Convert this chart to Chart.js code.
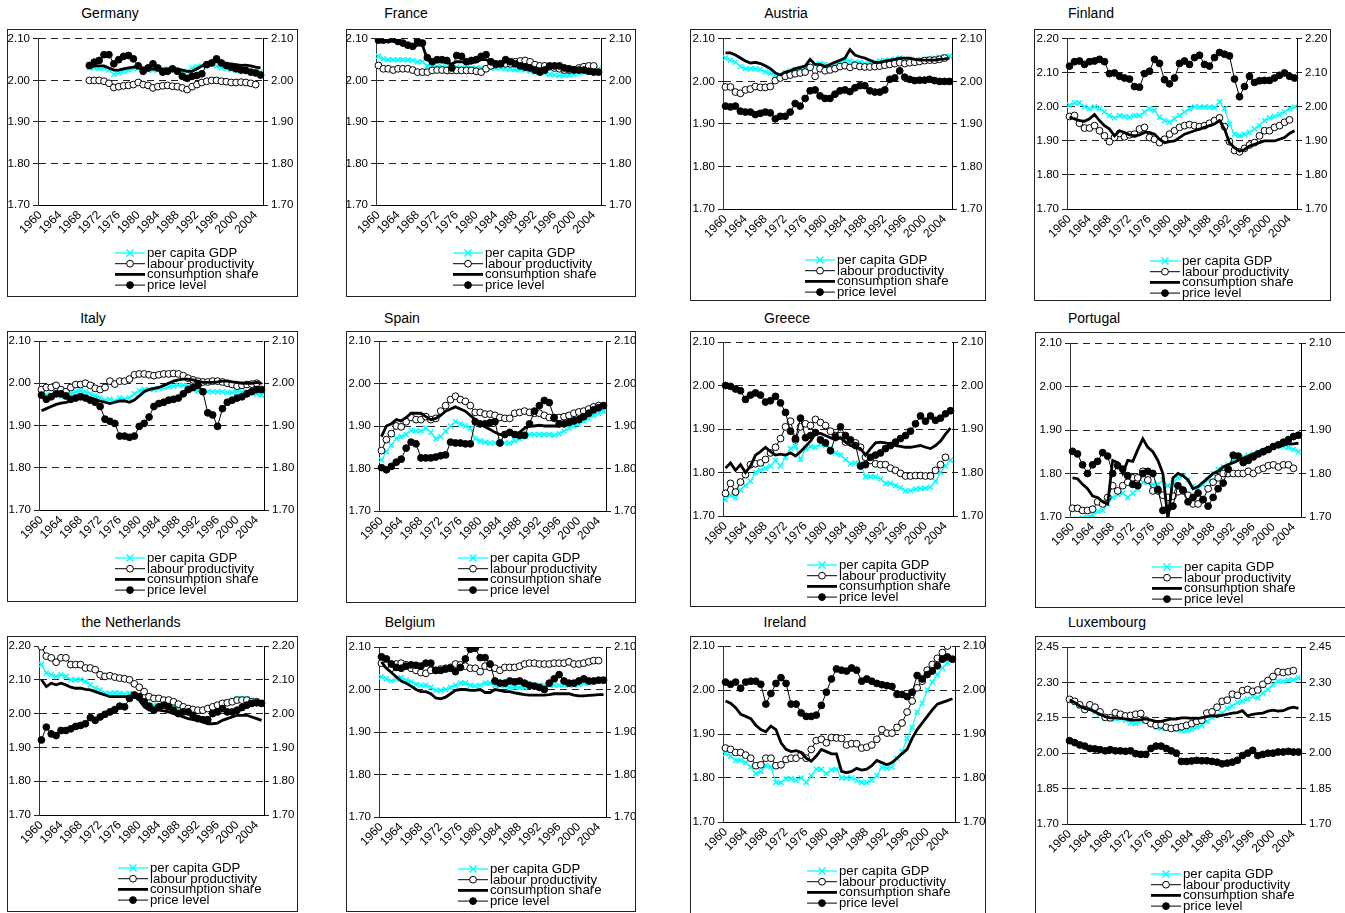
<!DOCTYPE html>
<html>
<head>
<meta charset="utf-8">
<script src="https://cdn.jsdelivr.net/npm/chart.js@4.4.1/dist/chart.umd.min.js"></script>
<style>
  body { margin: 0; background: #fff; width: 1345px; height: 913px; overflow: hidden; position: relative; font-family: "Liberation Sans", Arial, sans-serif; }
  .box { position: absolute; border: 1px solid #222; box-sizing: border-box; }
  .title { position: absolute; font-size: 14px; line-height: 16px; white-space: nowrap; transform: translateX(-50%); color: #000; }
  canvas { position: absolute; }
</style>
</head>
<body>
<script>
const years = ['1960','1961','1962','1963','1964','1965','1966','1967','1968','1969',
  '1970','1971','1972','1973','1974','1975','1976','1977','1978','1979',
  '1980','1981','1982','1983','1984','1985','1986','1987','1988','1989',
  '1990','1991','1992','1993','1994','1995','1996','1997','1998','1999',
  '2000','2001','2002','2003','2004','2005'];

const ticks210 = [1.70, 1.80, 1.90, 2.00, 2.10];
const ticks220 = [1.70, 1.80, 1.90, 2.00, 2.10, 2.20];
const ticks245 = [1.70, 1.85, 2.00, 2.15, 2.30, 2.45];

const seriesNames = ['per capita GDP', 'labour productivity', 'consumption share', 'price level'];

// Germany
const deGdp = [null,null,null,null,null,null,null,null,null,null,
  2.030,2.030,2.028,2.030,2.025,2.015,2.018,2.022,2.025,2.028,
  2.030,2.028,2.025,2.025,2.025,2.027,2.027,2.026,2.025,2.022,
  2.022,2.030,2.033,2.035,2.038,2.040,2.035,2.030,2.028,2.026,
  2.025,2.024,2.023,2.022,2.020,2.020];
const deProd = [null,null,null,null,null,null,null,null,null,null,
  2.000,2.000,2.000,1.998,1.993,1.983,1.985,1.987,1.988,1.990,
  1.995,1.990,1.988,1.982,1.985,1.987,1.988,1.986,1.985,1.982,
  1.978,1.985,1.990,1.995,1.998,2.000,2.000,1.998,1.997,1.995,
  1.995,1.996,1.995,1.993,1.990,null];
const deCons = [null,null,null,null,null,null,null,null,null,null,
  2.030,2.035,2.035,2.035,2.030,2.025,2.025,2.028,2.030,2.032,
  2.035,2.030,2.028,2.027,2.027,2.027,2.028,2.028,2.027,2.025,
  2.022,2.022,2.028,2.035,2.040,2.045,2.045,2.043,2.040,2.040,
  2.038,2.036,2.037,2.035,2.032,2.030];
const dePrice = [null,null,null,null,null,null,null,null,null,null,
  2.036,2.044,2.048,2.062,2.062,2.040,2.050,2.058,2.060,2.052,
  2.035,2.022,2.030,2.040,2.030,2.020,2.022,2.028,2.022,2.010,
  2.005,2.010,2.012,2.016,2.038,2.042,2.052,2.042,2.036,2.032,
  2.028,2.025,2.024,2.020,2.018,2.013];

// France
const frGdp = [2.058,2.052,2.050,2.050,2.050,2.050,2.050,2.048,2.045,2.045,
  2.035,2.033,2.033,2.033,2.032,2.030,2.032,2.030,2.030,2.030,
  2.030,2.030,2.030,2.030,2.030,2.030,2.028,2.027,2.026,2.026,
  2.025,2.022,2.020,2.020,2.018,2.015,2.013,2.012,2.012,2.013,
  2.015,2.018,2.020,2.022,2.025,2.028];
const frProd = [2.036,2.028,2.028,2.025,2.028,2.028,2.028,2.025,2.020,2.020,
  2.020,2.024,2.025,2.025,2.024,2.024,2.024,2.024,2.024,2.024,
  2.022,2.020,2.028,2.035,2.038,2.040,2.040,2.040,2.045,2.047,
  2.048,2.045,2.038,2.035,2.035,2.033,2.030,2.028,2.025,2.025,
  2.025,2.030,2.033,2.035,2.035,null];
const frCons = [2.095,2.095,2.095,2.095,2.090,2.088,2.083,2.080,2.085,2.085,
  2.050,2.045,2.045,2.045,2.042,2.040,2.045,2.045,2.042,2.042,
  2.045,2.050,2.050,2.045,2.042,2.042,2.045,2.043,2.040,2.038,
  2.035,2.032,2.030,2.028,2.030,2.035,2.035,2.033,2.030,2.030,
  2.028,2.026,2.025,2.023,2.022,2.020];
const frPrice = [2.097,2.097,2.098,2.100,2.094,2.090,2.085,2.082,2.095,2.090,
  2.055,2.045,2.050,2.050,2.048,2.030,2.060,2.058,2.045,2.048,
  2.050,2.058,2.062,2.045,2.040,2.040,2.050,2.045,2.040,2.035,
  2.032,2.030,2.025,2.020,2.025,2.035,2.035,2.035,2.030,2.028,
  2.026,2.025,2.025,2.022,2.020,2.020];

// Austria
const atGdp = [2.055,2.050,2.045,2.035,2.030,2.030,2.030,2.028,2.022,2.020,
  2.015,2.010,2.020,2.025,2.028,2.030,2.033,2.035,2.040,2.042,
  2.040,2.035,2.040,2.045,2.050,2.048,2.045,2.045,2.042,2.042,
  2.045,2.048,2.050,2.050,2.052,2.055,2.050,2.052,2.050,2.050,
  2.052,2.053,2.055,2.057,2.058,2.060];
const atProd = [1.987,1.987,1.975,1.972,1.980,1.982,1.988,1.986,1.986,1.988,
  2.002,2.008,2.012,2.015,2.018,2.020,2.022,2.033,2.012,2.030,
  2.025,2.027,2.030,2.035,2.037,2.033,2.038,2.035,2.034,2.034,
  2.035,2.036,2.038,2.040,2.042,2.044,2.042,2.044,2.045,2.047,
  2.049,2.050,2.050,2.052,2.055,null];
const atCons = [2.067,2.067,2.062,2.055,2.048,2.043,2.045,2.042,2.037,2.030,
  2.020,2.015,2.022,2.025,2.030,2.033,2.036,2.052,2.040,2.040,
  2.035,2.040,2.045,2.050,2.055,2.075,2.062,2.058,2.055,2.050,
  2.045,2.045,2.048,2.050,2.052,2.055,2.055,2.055,2.052,2.050,
  2.050,2.050,2.050,2.052,2.053,2.055];
const atPrice = [1.942,1.940,1.942,1.930,1.928,1.928,1.922,1.925,1.928,1.926,
  1.912,1.918,1.918,1.928,1.948,1.942,1.960,1.978,1.980,1.966,
  1.960,1.960,1.970,1.978,1.980,1.976,1.985,1.990,1.990,1.978,
  1.975,1.975,1.980,2.005,2.008,2.025,2.010,2.005,2.002,2.003,
  2.003,2.005,2.002,2.000,2.000,2.000];

// Finland
const fiGdp = [2.005,2.012,2.012,2.000,1.995,2.000,1.995,1.985,1.975,1.968,
  1.975,1.972,1.970,1.975,1.975,1.985,1.995,1.990,1.970,1.960,
  1.955,1.965,1.975,1.985,1.995,2.000,2.000,2.000,2.000,1.998,
  2.015,1.995,1.950,1.920,1.915,1.920,1.925,1.935,1.945,1.960,
  1.968,1.972,1.978,1.985,1.995,2.000];
const fiProd = [1.972,1.975,1.952,1.938,1.938,1.945,1.930,1.915,1.898,1.910,
  1.922,1.912,1.918,1.920,1.935,1.940,1.910,1.905,1.895,1.905,
  1.920,1.930,1.940,1.945,1.948,1.945,1.942,1.945,1.952,1.960,
  1.968,1.942,1.898,1.872,1.868,1.878,1.888,1.895,1.915,1.930,
  1.930,1.940,1.945,1.955,1.962,null];
const fiCons = [1.970,1.965,1.960,1.958,1.965,1.978,1.960,1.945,1.935,1.915,
  1.930,1.925,1.918,1.915,1.918,1.925,1.925,1.920,1.905,1.895,
  1.898,1.900,1.910,1.920,1.925,1.930,1.935,1.940,1.945,1.950,
  1.960,1.935,1.895,1.880,1.870,1.875,1.885,1.890,1.895,1.900,
  1.900,1.900,1.905,1.910,1.922,1.930];
const fiPrice = [2.120,2.133,2.135,2.125,2.133,2.135,2.140,2.133,2.098,2.100,
  2.090,2.085,2.082,2.060,2.058,2.098,2.105,2.140,2.128,2.080,
  2.068,2.085,2.128,2.135,2.125,2.145,2.152,2.125,2.120,2.145,
  2.160,2.155,2.150,2.082,2.030,2.060,2.090,2.072,2.077,2.078,
  2.078,2.085,2.093,2.100,2.090,2.085];

// Italy
const itGdp = [1.975,1.972,1.972,1.975,1.970,1.968,1.975,1.980,1.982,1.980,
  1.975,1.970,1.965,1.960,1.962,1.958,1.965,1.962,1.965,1.975,
  1.982,1.985,1.985,1.985,1.988,1.990,1.992,1.993,1.995,1.995,
  1.993,1.985,1.982,1.980,1.980,1.980,1.980,1.980,1.978,1.978,
  1.980,1.980,1.980,1.978,1.975,1.972];
const itProd = [1.985,1.990,1.990,1.995,1.985,1.980,1.990,1.997,1.997,2.000,
  1.995,1.988,1.985,1.990,2.005,1.998,2.005,2.005,2.010,2.020,
  2.022,2.022,2.020,2.018,2.020,2.022,2.022,2.023,2.022,2.018,
  2.012,2.008,2.005,2.003,2.003,2.005,2.005,2.003,2.000,1.997,
  1.993,1.995,1.997,1.998,2.000,null];
const itCons = [1.935,1.940,1.945,1.950,1.953,1.955,1.958,1.962,1.965,1.965,
  1.965,1.962,1.958,1.955,1.952,1.955,1.958,1.958,1.955,1.960,
  1.970,1.980,1.985,1.988,1.990,1.995,2.000,2.005,2.008,2.010,
  2.010,2.008,2.005,2.002,2.002,2.002,2.003,2.005,2.005,2.003,
  2.002,2.000,2.000,2.000,2.002,2.000];
const itPrice = [1.972,1.962,1.968,1.975,1.975,1.970,1.962,1.965,1.968,1.965,
  1.960,1.955,1.945,1.915,1.910,1.905,1.875,1.875,1.872,1.875,
  1.898,1.905,1.920,1.945,1.952,1.955,1.960,1.962,1.965,1.975,
  1.985,1.990,1.995,1.980,1.930,1.925,1.898,1.940,1.955,1.960,
  1.965,1.968,1.975,1.980,1.985,1.985];

// Spain
const esGdp = [1.820,1.840,1.855,1.870,1.875,1.880,1.890,1.888,1.888,1.895,
  1.885,1.870,1.875,1.888,1.900,1.910,1.905,1.900,1.895,1.870,
  1.865,1.862,1.860,1.860,1.865,1.860,1.860,1.865,1.870,1.875,
  1.880,1.880,1.880,1.880,1.880,1.878,1.882,1.888,1.895,1.900,
  1.905,1.912,1.918,1.925,1.930,1.935];
const esProd = [1.842,1.868,1.882,1.900,1.898,1.910,1.920,1.915,1.915,1.922,
  1.915,1.918,1.935,1.948,1.962,1.970,1.962,1.958,1.948,1.932,
  1.932,1.928,1.928,1.925,1.920,1.918,1.918,1.930,1.932,1.935,
  1.932,1.930,1.930,1.925,1.920,1.918,1.920,1.922,1.925,1.930,
  1.933,1.935,1.940,1.945,1.948,null];
const esCons = [1.875,1.900,1.905,1.915,1.912,1.920,1.930,1.930,1.930,1.922,
  1.915,1.918,1.925,1.935,1.940,1.945,1.940,1.935,1.925,1.915,
  1.905,1.898,1.892,1.885,1.880,1.880,1.880,1.880,1.885,1.895,
  1.900,1.900,1.902,1.900,1.900,1.900,1.900,1.905,1.910,1.915,
  1.920,1.925,1.932,1.938,1.943,1.948];
const esPrice = [1.802,1.797,1.805,1.815,1.822,1.848,1.862,1.858,1.825,1.825,
  1.825,1.827,1.830,1.832,1.862,1.860,1.860,1.858,1.858,1.910,
  1.905,1.905,1.908,1.910,1.860,1.880,1.885,1.880,1.878,1.878,
  1.905,1.935,1.948,1.960,1.955,1.920,1.905,1.905,1.908,1.912,
  1.915,1.922,1.930,1.938,1.943,1.948];

// Greece
const grGdp = [1.738,1.748,1.742,1.760,1.770,1.780,1.800,1.805,1.810,1.815,
  1.828,1.815,1.835,1.855,1.860,1.830,1.855,1.860,1.858,1.865,
  1.862,1.855,1.845,1.840,1.830,1.820,1.822,1.820,1.790,1.790,
  1.790,1.785,1.775,1.775,1.770,1.765,1.758,1.758,1.762,1.763,
  1.764,1.766,1.780,1.800,1.815,1.828];
const grProd = [1.752,1.775,1.755,1.778,1.795,1.818,1.820,1.822,1.830,1.845,
  1.858,1.878,1.905,1.918,1.875,1.905,1.912,1.908,1.922,1.915,
  1.908,1.895,1.885,1.885,1.870,1.870,1.868,1.858,1.835,1.828,
  1.820,1.818,1.818,1.810,1.805,1.798,1.792,1.792,1.793,1.793,
  1.792,1.792,1.805,1.818,1.835,null];
const grCons = [1.810,1.822,1.805,1.818,1.800,1.815,1.840,1.848,1.858,1.848,
  1.840,1.842,1.840,1.845,1.838,1.848,1.860,1.872,1.890,1.890,
  1.885,1.880,1.875,1.880,1.870,1.862,1.858,1.855,1.840,1.855,
  1.868,1.870,1.868,1.865,1.862,1.860,1.858,1.858,1.860,1.862,
  1.858,1.855,1.862,1.872,1.888,1.902];
const grPrice = [2.000,1.998,1.992,1.988,1.968,1.978,1.983,1.978,1.962,1.965,
  1.975,1.960,1.938,1.895,1.878,1.925,1.880,1.885,1.892,1.875,
  1.868,1.850,1.882,1.905,1.885,1.875,1.862,1.815,1.818,1.835,
  1.840,1.845,1.855,1.862,1.870,1.878,1.885,1.895,1.912,1.930,
  1.918,1.930,1.920,1.925,1.935,1.942];

// Portugal
const ptGdp = [1.695,1.695,1.697,1.700,1.705,1.712,1.715,1.730,1.745,1.752,
  1.755,1.745,1.755,1.765,1.780,1.780,1.775,1.775,1.785,1.772,
  1.778,1.790,1.795,1.785,1.770,1.765,1.775,1.785,1.800,1.810,
  1.815,1.820,1.830,1.835,1.838,1.842,1.845,1.848,1.852,1.858,
  1.862,1.865,1.862,1.860,1.855,1.850];
const ptProd = [1.720,1.720,1.715,1.715,1.718,1.735,1.730,1.745,1.772,1.760,
  1.772,1.780,1.790,1.790,1.805,1.785,1.760,1.760,1.750,1.745,
  1.748,1.758,1.760,1.750,1.730,1.730,1.740,1.765,1.780,1.790,
  1.800,1.800,1.800,1.800,1.800,1.805,1.800,1.808,1.812,1.818,
  1.820,1.815,1.820,1.820,1.812,null];
const ptCons = [1.790,1.788,1.775,1.765,1.748,1.745,1.735,1.730,1.830,1.825,
  1.800,1.830,1.828,1.855,1.880,1.860,1.850,1.830,1.800,1.695,
  1.790,1.800,1.795,1.785,1.765,1.770,1.780,1.790,1.800,1.805,
  1.815,1.820,1.825,1.830,1.835,1.840,1.845,1.850,1.855,1.860,
  1.862,1.862,1.865,1.868,1.868,1.870];
const ptPrice = [1.851,1.845,1.820,1.800,1.820,1.828,1.848,1.840,1.800,1.818,
  1.810,1.795,1.775,1.772,1.800,1.805,1.800,1.763,1.715,1.720,
  1.725,1.772,1.762,1.735,1.745,1.755,1.740,1.725,1.745,1.765,
  1.778,1.810,1.842,1.840,1.825,1.830,1.838,1.845,1.850,1.855,
  1.862,1.866,1.872,1.878,1.885,1.888];

// the Netherlands
const nlGdp = [2.145,2.120,2.115,2.110,2.115,2.110,2.100,2.100,2.100,2.095,
  2.085,2.075,2.070,2.060,2.060,2.062,2.060,2.058,2.060,2.055,
  2.045,2.035,2.025,2.025,2.020,2.020,2.020,2.020,2.015,2.010,
  2.010,2.010,2.010,2.010,2.015,2.020,2.025,2.030,2.035,2.040,
  2.045,2.045,2.045,2.040,2.035,2.035];
const nlProd = [2.198,2.170,2.165,2.152,2.165,2.165,2.145,2.145,2.145,2.135,
  2.135,2.130,2.115,2.110,2.112,2.108,2.105,2.103,2.100,2.088,
  2.078,2.065,2.050,2.045,2.045,2.040,2.040,2.035,2.028,2.020,
  2.015,2.012,2.010,2.010,2.015,2.020,2.025,2.030,2.032,2.035,
  2.040,2.040,2.040,2.035,2.035,null];
const nlCons = [2.100,2.080,2.090,2.085,2.090,2.085,2.078,2.075,2.075,2.072,
  2.070,2.065,2.060,2.055,2.050,2.050,2.050,2.050,2.050,2.050,
  2.040,2.020,2.010,2.010,2.010,2.008,2.005,2.000,1.995,1.990,
  1.985,1.982,1.980,1.975,1.970,1.970,1.972,1.980,1.985,1.990,
  1.995,1.995,1.995,1.990,1.985,1.980];
const nlPrice = [1.922,1.960,1.940,1.935,1.950,1.950,1.955,1.962,1.965,1.970,
  1.988,1.980,1.990,1.998,2.005,2.012,2.022,2.020,2.045,2.055,
  2.050,2.035,2.022,2.010,2.020,2.025,2.020,2.010,2.000,2.005,
  2.005,1.995,1.985,1.982,1.982,2.000,2.005,2.015,2.005,2.005,
  2.010,2.018,2.025,2.030,2.032,2.030];

// Belgium
const beGdp = [2.030,2.025,2.020,2.025,2.028,2.022,2.018,2.012,2.010,2.010,
  2.005,1.998,1.998,2.000,2.005,2.010,2.015,2.015,2.010,2.008,
  2.010,2.015,2.015,2.010,2.010,2.008,2.005,2.005,2.005,2.005,
  2.010,2.010,2.010,2.010,2.010,2.010,2.010,2.010,2.010,2.010,
  2.012,2.015,2.015,2.018,2.020,2.022];
const beProd = [2.062,2.058,2.050,2.060,2.062,2.058,2.050,2.045,2.040,2.038,
  2.045,2.045,2.048,2.050,2.052,2.060,2.058,2.055,2.050,2.050,
  2.042,2.055,2.052,2.050,2.045,2.052,2.052,2.052,2.055,2.060,
  2.062,2.062,2.060,2.060,2.060,2.062,2.062,2.062,2.065,2.060,
  2.060,2.062,2.065,2.068,2.068,null];
const beCons = [2.065,2.050,2.040,2.030,2.020,2.015,2.008,2.000,1.995,1.995,
  1.990,1.980,1.978,1.982,1.990,1.998,2.000,2.000,1.998,1.998,
  2.000,1.993,1.993,2.000,1.998,1.995,1.995,1.992,1.990,1.988,
  1.987,1.987,1.987,1.987,1.988,1.990,1.990,1.990,1.990,1.987,
  1.985,1.985,1.986,1.987,1.988,1.988];
const bePrice = [2.077,2.072,2.060,2.052,2.050,2.055,2.058,2.057,2.055,2.062,
  2.062,2.045,2.045,2.048,2.050,2.042,2.052,2.072,2.095,2.097,
  2.075,2.075,2.060,2.020,2.015,2.015,2.020,2.018,2.020,2.015,
  2.010,2.008,2.005,2.000,2.015,2.025,2.035,2.020,2.015,2.015,
  2.020,2.025,2.020,2.020,2.022,2.022];

// Ireland
const ieGdp = [1.855,1.850,1.840,1.840,1.835,1.825,1.810,1.815,1.828,1.825,
  1.790,1.790,1.798,1.798,1.795,1.800,1.790,1.805,1.820,1.820,
  1.810,1.818,1.820,1.800,1.800,1.800,1.795,1.790,1.790,1.795,
  1.805,1.825,1.822,1.825,1.845,1.860,1.890,1.915,1.950,1.970,
  2.000,2.018,2.035,2.050,2.062,2.072];
const ieProd = [1.868,1.865,1.858,1.858,1.852,1.845,1.828,1.830,1.845,1.845,
  1.828,1.830,1.842,1.845,1.845,1.852,1.845,1.865,1.885,1.888,
  1.880,1.892,1.891,1.890,1.875,1.878,1.878,1.868,1.870,1.875,
  1.888,1.910,1.902,1.902,1.915,1.925,1.950,1.975,2.005,2.020,
  2.045,2.058,2.072,2.085,2.100,null];
const ieCons = [1.975,1.970,1.960,1.945,1.940,1.935,1.920,1.910,1.905,1.918,
  1.910,1.880,1.865,1.860,1.862,1.858,1.845,1.838,1.850,1.865,
  1.860,1.855,1.855,1.815,1.812,1.815,1.822,1.818,1.820,1.828,
  1.840,1.835,1.830,1.835,1.845,1.855,1.865,1.890,1.910,1.925,
  1.940,1.955,1.968,1.972,1.976,1.980];
const iePrice = [2.018,2.013,2.018,2.004,2.018,2.020,2.020,2.013,1.968,1.992,
  2.015,2.028,2.015,1.968,1.968,1.948,1.940,1.940,1.943,1.965,
  1.995,2.025,2.048,2.045,2.043,2.050,2.045,2.020,2.025,2.020,
  2.015,2.012,2.010,2.008,1.990,1.990,1.985,1.995,2.033,2.025,
  2.035,2.043,2.055,2.070,2.075,2.070];

// Luxembourg
const luGdp = [2.230,2.215,2.200,2.190,2.190,2.175,2.165,2.148,2.145,2.145,
  2.148,2.140,2.128,2.125,2.135,2.140,2.128,2.110,2.105,2.105,
  2.105,2.100,2.095,2.095,2.100,2.110,2.120,2.135,2.150,2.160,
  2.170,2.190,2.200,2.215,2.220,2.230,2.240,2.235,2.255,2.270,
  2.290,2.305,2.305,2.310,2.310,2.320];
const luProd = [2.228,2.220,2.205,2.185,2.205,2.195,2.175,2.152,2.150,2.172,
  2.165,2.158,2.160,2.165,2.168,2.140,2.125,2.118,2.120,2.110,
  2.105,2.108,2.112,2.118,2.125,2.135,2.140,2.170,2.175,2.195,
  2.220,2.225,2.250,2.245,2.265,2.270,2.262,2.268,2.292,2.308,
  2.325,2.345,2.342,2.345,2.350,null];
const luCons = [2.225,2.215,2.200,2.190,2.185,2.175,2.165,2.155,2.150,2.150,
  2.148,2.145,2.140,2.140,2.142,2.145,2.140,2.135,2.135,2.140,
  2.145,2.145,2.150,2.150,2.148,2.148,2.150,2.155,2.158,2.158,
  2.160,2.165,2.170,2.172,2.180,2.158,2.165,2.168,2.170,2.178,
  2.182,2.178,2.180,2.190,2.195,2.190];
const luPrice = [2.053,2.045,2.035,2.030,2.020,2.018,2.015,2.010,2.015,2.010,
  2.010,2.008,2.010,1.998,1.995,1.995,2.020,2.030,2.030,2.020,
  2.010,2.000,1.965,1.965,1.967,1.970,1.968,1.968,1.965,1.962,
  1.955,1.958,1.962,1.970,1.990,2.000,2.012,1.990,1.995,2.000,
  2.000,2.005,2.005,2.008,2.005,2.005];

// panel placement on the page (box, plot area, title centre, legend start)
const panels = [
  { name: 'Germany', series: [deGdp, deProd, deCons, dePrice], ticks: ticks210, box: [7, 29, 291, 268], plot: [38, 38, 263, 205], title: [110, 14], legend: [115, 253] },
  { name: 'France', series: [frGdp, frProd, frCons, frPrice], ticks: ticks210, box: [346, 29, 290, 268], plot: [376, 38, 601, 205], title: [406, 14], legend: [453, 253] },
  { name: 'Austria', series: [atGdp, atProd, atCons, atPrice], ticks: ticks210, box: [690, 29, 296, 272], plot: [723, 38, 952, 209], title: [786, 14], legend: [805, 260] },
  { name: 'Finland', series: [fiGdp, fiProd, fiCons, fiPrice], ticks: ticks220, box: [1034, 29, 297, 272], plot: [1067, 38, 1297, 209], title: [1091, 14], legend: [1150, 261] },
  { name: 'Italy', series: [itGdp, itProd, itCons, itPrice], ticks: ticks210, box: [7, 331, 291, 271], plot: [39, 341, 264, 510], title: [93, 319], legend: [115, 558] },
  { name: 'Spain', series: [esGdp, esProd, esCons, esPrice], ticks: ticks210, box: [346, 331, 290, 272], plot: [379, 341, 606, 511], title: [402, 319], legend: [458, 558] },
  { name: 'Greece', series: [grGdp, grProd, grCons, grPrice], ticks: ticks210, box: [690, 331, 296, 276], plot: [723, 342, 953, 516], title: [787, 319], legend: [807, 565] },
  { name: 'Portugal', series: [ptGdp, ptProd, ptCons, ptPrice], ticks: ticks210, box: [1035, 332, 330, 276], plot: [1070, 343, 1301, 517], title: [1094, 319], legend: [1152, 567] },
  { name: 'the Netherlands', series: [nlGdp, nlProd, nlCons, nlPrice], ticks: ticks220, box: [7, 636, 291, 276], plot: [39, 646, 264, 815], title: [131, 623], legend: [118, 868] },
  { name: 'Belgium', series: [beGdp, beProd, beCons, bePrice], ticks: ticks210, box: [346, 636, 290, 276], plot: [379, 647, 606, 817], title: [410, 623], legend: [458, 869] },
  { name: 'Ireland', series: [ieGdp, ieProd, ieCons, iePrice], ticks: ticks210, box: [690, 636, 296, 290], plot: [723, 646, 955, 822], title: [785, 623], legend: [807, 871] },
  { name: 'Luxembourg', series: [luGdp, luProd, luCons, luPrice], ticks: ticks245, box: [1035, 636, 330, 290], plot: [1067, 647, 1301, 824], title: [1107, 623], legend: [1151, 874] }
];

const CYAN = '#00ffff';
const FONT = '"Liberation Sans", Arial, sans-serif';
Chart.defaults.font.family = FONT;
Chart.defaults.font.size = 11.5;
Chart.defaults.color = '#000';

function drawMarker(ctx, ds, x, y) {
  if (!ds.pointRadius) return;
  const r = ds.pointRadius;
  ctx.save();
  ctx.lineWidth = ds.pointBorderWidth;
  ctx.strokeStyle = ds.pointBorderColor;
  ctx.fillStyle = ds.pointBackgroundColor;
  ctx.setLineDash([]);
  if (ds.pointStyle === 'crossRot') {
    ctx.beginPath();
    ctx.moveTo(x - r, y - r); ctx.lineTo(x + r, y + r);
    ctx.moveTo(x - r, y + r); ctx.lineTo(x + r, y - r);
    ctx.stroke();
  } else {
    ctx.beginPath();
    ctx.arc(x, y, r, 0, Math.PI * 2);
    ctx.fill();
    ctx.stroke();
  }
  ctx.restore();
}

// Excel style legend: short line with the marker in the middle, one row per series
const sheetLegend = {
  id: 'sheetLegend',
  afterDraw(chart, args, opts) {
    const ctx = chart.ctx;
    chart.data.datasets.forEach((ds, i) => {
      const y = opts.y + i * 10.7;
      ctx.save();
      ctx.strokeStyle = ds.borderColor;
      ctx.lineWidth = ds.borderWidth;
      ctx.beginPath();
      ctx.moveTo(opts.x, y);
      ctx.lineTo(opts.x + 30, y);
      ctx.stroke();
      ctx.restore();
      drawMarker(ctx, ds, opts.x + 15, y);
      // the sheet's legend text is a little wider than it is tall
      ctx.save();
      ctx.fillStyle = '#000';
      ctx.font = '12px ' + FONT;
      ctx.textBaseline = 'middle';
      ctx.translate(opts.x + 32, y + 0.5);
      ctx.scale(1.1, 1);
      ctx.fillText(ds.label, 0, 0);
      ctx.restore();
    });
  }
};

function makePanel(p) {
  const [bx, by, bw, bh] = p.box;
  const [pl, pt, pr, pb] = p.plot;

  const box = document.createElement('div');
  box.className = 'box';
  Object.assign(box.style, { left: bx + 'px', top: by + 'px', width: bw + 'px', height: bh + 'px' });
  document.body.appendChild(box);

  const title = document.createElement('div');
  title.className = 'title';
  title.textContent = p.name;
  Object.assign(title.style, { left: p.title[0] + 'px', top: (p.title[1] - 9) + 'px' });
  document.body.appendChild(title);

  const canvas = document.createElement('canvas');
  canvas.width = bw;
  canvas.height = bh;
  Object.assign(canvas.style, { left: bx + 'px', top: by + 'px' });
  document.body.appendChild(canvas);

  const yMin = p.ticks[0];
  const yMax = p.ticks[p.ticks.length - 1];
  const setTicks = scale => { scale.ticks = p.ticks.map(v => ({ value: v })); };

  new Chart(canvas.getContext('2d'), {
    type: 'line',
    data: {
      labels: years,
      datasets: [
        {
          label: seriesNames[0], data: p.series[0], order: 4,
          borderColor: CYAN, borderWidth: 1.2,
          pointStyle: 'crossRot', pointRadius: 3.5, pointBorderWidth: 1.5,
          pointBorderColor: CYAN, pointBackgroundColor: CYAN
        },
        {
          label: seriesNames[1], data: p.series[1], order: 3,
          borderColor: '#000', borderWidth: 1,
          pointStyle: 'circle', pointRadius: 3.4, pointBorderWidth: 1,
          pointBorderColor: '#000', pointBackgroundColor: '#fff'
        },
        {
          label: seriesNames[2], data: p.series[2], order: 2,
          borderColor: '#000', borderWidth: 2.8, pointRadius: 0
        },
        {
          label: seriesNames[3], data: p.series[3], order: 1,
          borderColor: '#000', borderWidth: 1,
          pointStyle: 'circle', pointRadius: 3.4, pointBorderWidth: 1,
          pointBorderColor: '#000', pointBackgroundColor: '#000'
        }
      ]
    },
    options: {
      responsive: false,
      animation: false,
      devicePixelRatio: 1,
      events: [],
      layout: {
        padding: {
          left: pl - bx - 30,
          right: bx + bw - pr - 30,
          top: pt - by,
          bottom: by + bh - pb - 30
        }
      },
      plugins: {
        legend: { display: false },
        tooltip: { enabled: false },
        sheetLegend: { x: p.legend[0] - bx, y: p.legend[1] - by }
      },
      scales: {
        x: {
          offset: true,
          grid: { display: false, drawTicks: false },
          border: { display: true, color: '#000', width: 1 },
          ticks: {
            autoSkip: false, minRotation: 45, maxRotation: 45, padding: 3,
            font: { size: 12 },
            callback: (v, i) => (i % 4 === 0 ? years[i] : '')
          },
          afterFit: s => { s.height = 30; }
        },
        y: {
          position: 'left', min: yMin, max: yMax,
          afterBuildTicks: setTicks,
          grid: { color: '#222', lineWidth: 1, tickLength: 5, tickColor: '#222', tickBorderDash: [] },
          border: { display: true, color: '#333', width: 1, dash: [7, 5] },
          ticks: { padding: 3, callback: v => v.toFixed(2) },
          afterFit: s => { s.width = 30; }
        },
        y2: {
          position: 'right', min: yMin, max: yMax,
          afterBuildTicks: setTicks,
          grid: { drawOnChartArea: false, tickLength: 5, color: '#222', tickBorderDash: [] },
          border: { display: true, color: '#000', width: 1 },
          ticks: { padding: 3, callback: v => v.toFixed(2) },
          afterFit: s => { s.width = 30; }
        }
      }
    },
    plugins: [sheetLegend]
  });
}

panels.forEach(makePanel);
</script>
</body>
</html>
